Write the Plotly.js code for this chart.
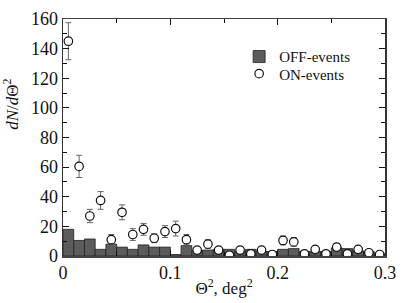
<!DOCTYPE html>
<html><head><meta charset="utf-8">
<script src="https://cdn.plot.ly/plotly-3.0.1.min.js"></script>
<style>body{margin:0;background:#fff}#c{width:401px;height:303px}</style>
</head><body><div id="c"></div>
<script>
const binCenters = [0.005,0.015,0.025,0.035,0.045,0.055,0.065,0.075,0.085,0.095,0.105,0.115,0.125,0.135,0.145,0.155,0.165,0.175,0.185,0.195,0.205,0.215,0.225,0.235,0.245,0.255,0.265,0.275,0.285,0.295];
const offEvents = [18,10.5,11.5,4.5,8,6,4.5,7.5,6,6,1,7,3.5,4,4.5,4.5,3,4.5,3,3,4.5,5,3,3,3,5.5,5,3.5,3,1.5];
const onEvents = [145,60.5,27,37.5,11,29.5,14.5,18,12,16.5,18.5,11,4,8,4,0.5,4,1.5,4,1,10.5,9.5,1.5,4.5,1.5,6,1.5,4.5,2.2,1];
const onErrors = [12.5,7.5,4.5,6,3.5,5,4,4,3,4,5,3.5,2,3,2,1,2,1,2,1,3,3,1,2,1,2.5,1,2,1.5,1];
const xTicks = [0,0.1,0.2,0.3];
const yTicks = [0,20,40,60,80,100,120,140,160];

const serif = 'Liberation Serif';
const traces = [
  {type:'bar', x:binCenters, y:offEvents, width:0.01, name:'OFF-events', legend:'legend',
   marker:{color:'#5c5c5c', line:{color:'#222', width:0.8}}},
  {type:'scatter', mode:'markers', x:binCenters, y:onEvents, name:'ON-events', legend:'legend2',
   marker:{symbol:'circle', size:8.5, color:'#fff', line:{color:'#111', width:1.2}},
   error_y:{type:'data', array:onErrors, visible:true, color:'#666', thickness:1, width:3}}
];
const legendBase = {xanchor:'left', yanchor:'top', bgcolor:'rgba(0,0,0,0)',
  font:{family:serif, size:15, color:'#111'}, itemwidth:30};
const layout = {
  width:401, height:303,
  margin:{l:63, r:16, t:19, b:47},
  paper_bgcolor:'#fff', plot_bgcolor:'#fff',
  bargap:0,
  showlegend:true,
  legend:Object.assign({x:0.547, y:0.91}, legendBase),
  legend2:Object.assign({x:0.547, y:0.838}, legendBase),
  font:{family:serif, size:18, color:'#111'},
  xaxis:{range:[0,0.3], tickvals:xTicks, ticktext:xTicks.map(String),
         ticks:'inside', ticklen:6, tickcolor:'#111', showline:true, mirror:'ticks',
         linecolor:'#444', linewidth:1.5, showgrid:false, zeroline:false,
         minor:{dtick:0.05, ticks:'inside', ticklen:4, tickcolor:'#111'},
         tickfont:{family:serif, size:18, color:'#111'},
         title:{text:'Θ<sup>2</sup>, deg<sup>2</sup>', font:{family:serif, size:17, color:'#111'}, standoff:0}},
  yaxis:{range:[0,160], tickvals:yTicks, ticktext:yTicks.map(String),
         ticks:'inside', ticklen:6, tickcolor:'#111', showline:true, mirror:'ticks',
         linecolor:'#333', linewidth:1.5, showgrid:false, zeroline:false,
         minor:{dtick:10, ticks:'inside', ticklen:4, tickcolor:'#111'},
         tickfont:{family:serif, size:18, color:'#111'}},
  annotations:[{xref:'paper', yref:'paper', x:-0.16, y:0.64, xanchor:'center', yanchor:'middle',
    textangle:-90, showarrow:false, text:'<i>dN</i>/<i>d</i>Θ<sup>2</sup>',
    font:{family:serif, size:17, color:'#111'}}]
};
Plotly.newPlot('c', traces, layout, {displayModeBar:false, staticPlot:true});
</script></body></html>
